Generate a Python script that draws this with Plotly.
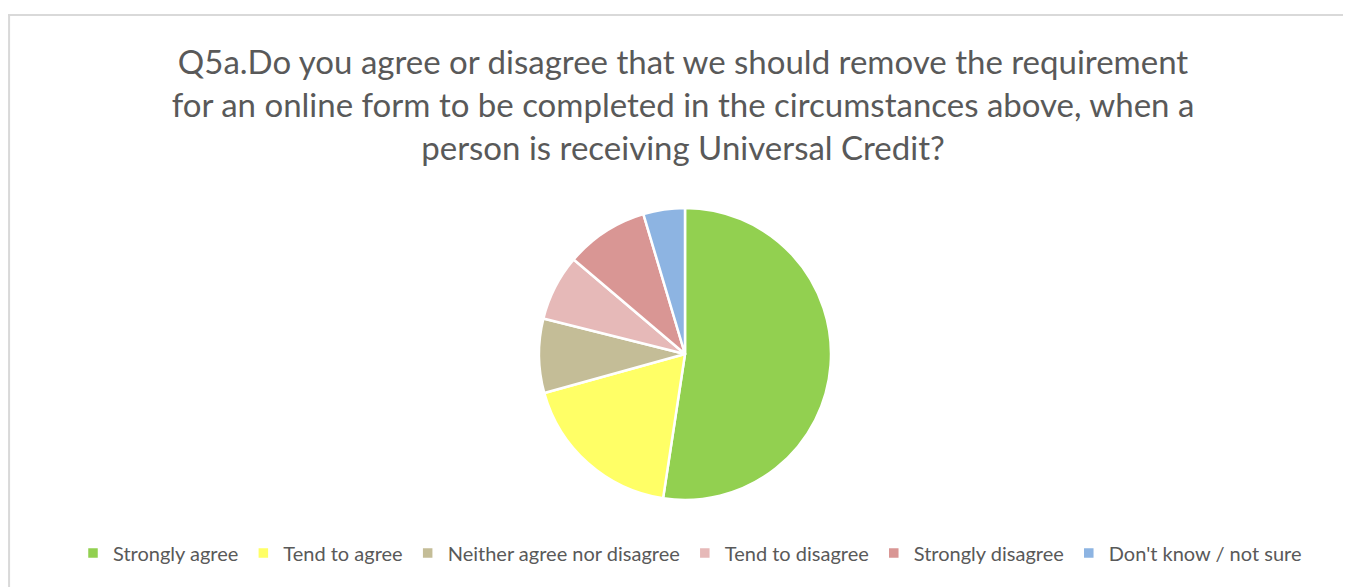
import plotly.graph_objects as go

categories = ["Strongly agree", "Tend to agree", "Neither agree nor disagree",
              "Tend to disagree", "Strongly disagree", "Don't know / not sure"]
values = [52.4, 18.3, 8.2, 7.3, 9.2, 4.6]
colors = ["#92D050", "#FFFF66", "#C4BD97", "#E6B9B8", "#D99694", "#8DB4E2"]

# page body has an 8px margin; work in figure pixel coordinates
W, H = 1343, 579
OFF = 8


def px(x):
    return (x - OFF) / W


def py(y):
    return 1 - (y - OFF) / H


fig = go.Figure(go.Pie(
    labels=categories, values=values, sort=False, direction="clockwise", rotation=0,
    marker=dict(colors=colors, line=dict(color="white", width=2.5)),
    textinfo="none", hoverinfo="label+percent",
    domain=dict(x=[px(539), px(831)], y=[py(500), py(208)]),
))

fig.update_layout(
    width=W, height=H,
    margin=dict(l=0, r=0, t=0, b=0),
    paper_bgcolor="white",
    font=dict(family="Lato, 'Open Sans', sans-serif", color="#595959"),
    title=dict(
        text="Q5a.Do you agree or disagree that we should remove the requirement<br>"
             "for an online form to be completed in the circumstances above, when a<br>"
             "person is receiving Universal Credit?",
        x=px(683), xanchor="center", y=py(74), yanchor="top",
        font=dict(size=33, color="#595959"),
    ),
    showlegend=True,
    legend=dict(orientation="h", x=px(690), xanchor="center", y=py(553), yanchor="middle",
                font=dict(size=20, color="#595959"), itemwidth=30,
                traceorder="normal"),
    shapes=[
        dict(type="line", xref="paper", yref="paper", x0=px(8), x1=1.0, y0=py(15), y1=py(15),
             line=dict(color="#D9D9D9", width=2)),
        dict(type="line", xref="paper", yref="paper", x0=px(8) + 0.0008, x1=px(8) + 0.0008,
             y0=0, y1=py(15), line=dict(color="#D9D9D9", width=2)),
    ],
)

fig.write_html("out.html")
